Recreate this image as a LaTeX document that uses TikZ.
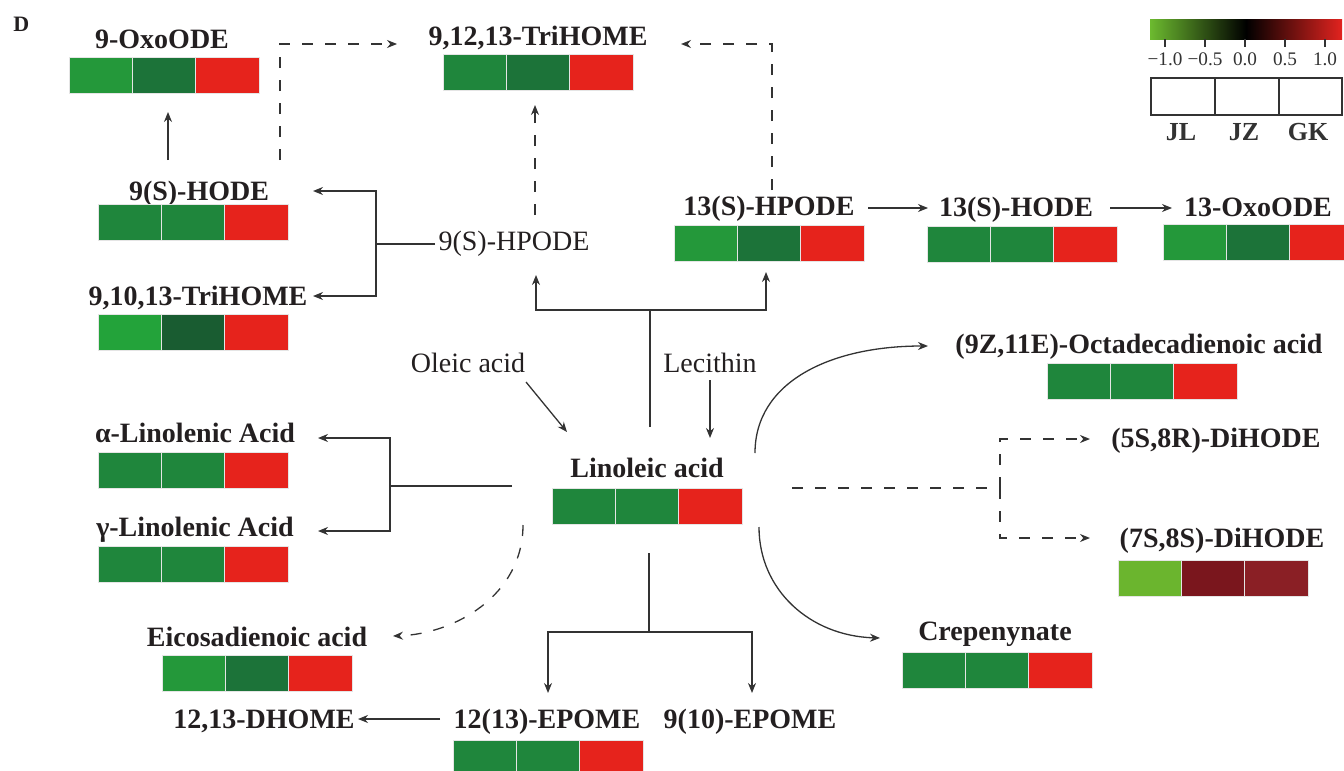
\documentclass[tikz,border=0pt]{standalone}
\usepackage{fontspec}
\setmainfont{Liberation Serif}
\usetikzlibrary{arrows.meta}
\definecolor{txt}{HTML}{231F20}
\definecolor{ln}{HTML}{333333}
\definecolor{gA}{HTML}{24983A}
\definecolor{gB}{HTML}{1F863C}
\definecolor{gC}{HTML}{1C7339}
\definecolor{gD}{HTML}{195C31}
\definecolor{gE}{HTML}{23A33A}
\definecolor{rd}{HTML}{E6231C}
\definecolor{lg}{HTML}{6BB52E}
\definecolor{drA}{HTML}{7A161D}
\definecolor{drB}{HTML}{8A1F25}
\definecolor{barL}{HTML}{6CBA2F}
\definecolor{barR}{HTML}{E2231F}
\newcommand{\heatmap}[5]{%
  \node[cell,fill=#3] (#1-1) at #2 {};
  \node[cell,fill=#4] (#1-2) at (#1-1.north east) {};
  \node[cell,fill=#5] (#1-3) at (#1-2.north east) {};}
\begin{document}
\begin{tikzpicture}[x=0.5pt,y=-0.5pt,
  lbl/.style={font=\bfseries\fontsize{14}{16}\selectfont, text=txt, inner sep=0pt, anchor=base},
  plain/.style={font=\fontsize{14}{16}\selectfont, text=txt, inner sep=0pt, anchor=base},
  cell/.style={minimum width=31.67pt, minimum height=18pt, inner sep=0pt, outer sep=0pt, draw=black!10, line width=0.5pt, anchor=north west},
  conn/.style={draw=ln, line width=0.65pt},
  arr/.style={conn, -{Stealth[length=5pt,width=4pt]}},
  dsh/.style={conn, dash pattern=on 5.5pt off 6pt},
  darr/.style={dsh, -{Stealth[length=5pt,width=4pt]}},
  leg/.style={font=\fontsize{9.6}{11}\selectfont, text=ln, inner sep=0pt, anchor=base},
  legb/.style={font=\bfseries\fontsize{13}{15}\selectfont, text=ln, inner sep=0pt, anchor=base}]
\useasboundingbox (0,0) rectangle (1344,771);
\clip (0,0) rectangle (1344,771);

% panel letter
\node[font=\bfseries\fontsize{11}{12}\selectfont, text=txt, inner sep=0pt, anchor=base west] (panel) at (13,32) {D};

% labels
\node[lbl] (oxo9) at (162,48) {9-OxoODE};
\node[lbl] (tri912) at (538,45) {9,12,13-TriHOME};
\node[lbl] (hode9) at (199,200) {9(S)-HODE};
\node[lbl] (tri910) at (198,305) {9,10,13-TriHOME};
\node[plain] (hpode9) at (514,250) {9(S)-HPODE};
\node[lbl] (hpode13) at (769,215) {13(S)-HPODE};
\node[lbl] (hode13) at (1016,216) {13(S)-HODE};
\node[lbl] (oxo13) at (1258,216) {13-OxoODE};
\node[plain] (oleic) at (468,372) {Oleic acid};
\node[plain] (lec) at (710,372) {Lecithin};
\node[lbl] (lin) at (647,477) {Linoleic acid};
\node[lbl] (ala) at (195,442) {α-Linolenic Acid};
\node[lbl] (gla) at (195,536) {γ-Linolenic Acid};
\node[lbl] (eico) at (257,646) {Eicosadienoic acid};
\node[lbl] (dhome) at (264,728) {12,13-DHOME};
\node[lbl] (epome12) at (547,728) {12(13)-EPOME};
\node[lbl] (epome9) at (750,728) {9(10)-EPOME};
\node[lbl] (octa) at (1139,353) {(9Z,11E)-Octadecadienoic acid};
\node[lbl] (di58) at (1216,447) {(5S,8R)-DiHODE};
\node[lbl] (di78) at (1222,547) {(7S,8S)-DiHODE};
\node[lbl] (crep) at (995,640) {Crepenynate};

% heatmaps
\heatmap{hOxo9}{(69,57)}{gA}{gC}{rd}
\heatmap{hTri912}{(443,54)}{gB}{gC}{rd}
\heatmap{hHode9}{(98,204)}{gB}{gB}{rd}
\heatmap{hTri910}{(98,314)}{gE}{gD}{rd}
\heatmap{hHpode13}{(674,225)}{gA}{gC}{rd}
\heatmap{hHode13}{(927,226)}{gB}{gB}{rd}
\heatmap{hOxo13}{(1163,224)}{gA}{gC}{rd}
\heatmap{hOcta}{(1047,363)}{gB}{gB}{rd}
\heatmap{hDi78}{(1118,560)}{lg}{drA}{drB}
\heatmap{hAla}{(98,452)}{gB}{gB}{rd}
\heatmap{hGla}{(98,546)}{gB}{gB}{rd}
\heatmap{hLin}{(552,488)}{gB}{gB}{rd}
\heatmap{hEico}{(162,655)}{gA}{gC}{rd}
\heatmap{hCrep}{(902,652)}{gB}{gB}{rd}
\heatmap{hEpome12}{(453,740)}{gB}{gB}{rd}

% coordinates for connector ends
\coordinate (c1s) at (168,160); \coordinate (c1e) at (168,112);
\coordinate (d1s) at (280,160); \coordinate (d1e) at (397,44);
\coordinate (d2s) at (772,190); \coordinate (d2e) at (681,44);
\coordinate (d3s) at (535,215); \coordinate (d3e) at (535,105);
\coordinate (hp9w) at (435,244); \coordinate (j1) at (376,244);
\coordinate (t1) at (313,191); \coordinate (t2) at (313,296);
\coordinate (lintop) at (650,427); \coordinate (j2) at (650,310);
\coordinate (t3) at (536,275); \coordinate (t4) at (766,272);
\coordinate (a13s) at (868,208); \coordinate (a13e) at (928,208);
\coordinate (b13s) at (1110,208); \coordinate (b13e) at (1172,208);
\coordinate (ols) at (526,382); \coordinate (ole) at (567,432);
\coordinate (lcs) at (710,380); \coordinate (lce) at (710,438);
\coordinate (linw) at (512,486); \coordinate (j3) at (390,486);
\coordinate (t5) at (318,438); \coordinate (t6) at (318,531);
\coordinate (eis) at (523,525); \coordinate (eie) at (393,636);
\coordinate (linbot) at (649,553); \coordinate (j4) at (649,632);
\coordinate (t7) at (548,693); \coordinate (t8) at (752,693);
\coordinate (eps) at (440,719); \coordinate (epe) at (358,719);
\coordinate (cus) at (755,453); \coordinate (cue) at (928,346);
\coordinate (cds) at (759,527); \coordinate (cde) at (880,638);
\coordinate (drs) at (792,488); \coordinate (j5) at (1000,488);
\coordinate (t9) at (1090,439); \coordinate (t10) at (1090,538);

% connectors
\draw[arr] (c1s) -- (c1e);
\draw[darr] (d1s) |- (d1e);
\draw[darr] (d2s) |- (d2e);
\draw[darr] (d3s) -- (d3e);
\draw[conn] (hp9w) -- (j1);
\draw[arr] (j1) |- (t1);
\draw[arr] (j1) |- (t2);
\draw[conn] (lintop) -- (j2);
\draw[arr] (j2) -| (t3);
\draw[arr] (j2) -| (t4);
\draw[arr] (a13s) -- (a13e);
\draw[arr] (b13s) -- (b13e);
\draw[arr] (ols) -- (ole);
\draw[arr] (lcs) -- (lce);
\draw[conn] (linw) -- (j3);
\draw[arr] (j3) |- (t5);
\draw[arr] (j3) |- (t6);
\draw[darr] (eis) .. controls (523,595) and (455,634) .. (eie);
\draw[conn] (linbot) -- (j4);
\draw[arr] (j4) -| (t7);
\draw[arr] (j4) -| (t8);
\draw[arr] (eps) -- (epe);
\draw[arr] (cus) .. controls (755,382) and (830,346) .. (cue);
\draw[arr] (cds) .. controls (759,590) and (810,636) .. (cde);
\draw[dsh] (drs) -- (j5);
\draw[darr] (j5) |- (t9);
\draw[darr] (j5) |- (t10);

% legend
\shade[left color=barL, right color=barR, middle color=black] (1150,19) rectangle (1342,39);
\foreach \xx/\tt in {1165/−1.0,1205/−0.5,1245/0.0,1285/0.5,1325/1.0}{
  \draw[ln, line width=0.6pt] (\xx,39) -- (\xx,47);
  \node[leg] at (\xx,65) {\tt};
}
\draw[ln, line width=0.7pt] (1151,78) rectangle (1342,115);
\draw[ln, line width=0.7pt] (1215,78) -- (1215,115);
\draw[ln, line width=0.7pt] (1279,78) -- (1279,115);
\node[legb] (jl) at (1181,140) {JL};
\node[legb] (jz) at (1244,140) {JZ};
\node[legb] (gk) at (1308,140) {GK};
\end{tikzpicture}
\end{document}
